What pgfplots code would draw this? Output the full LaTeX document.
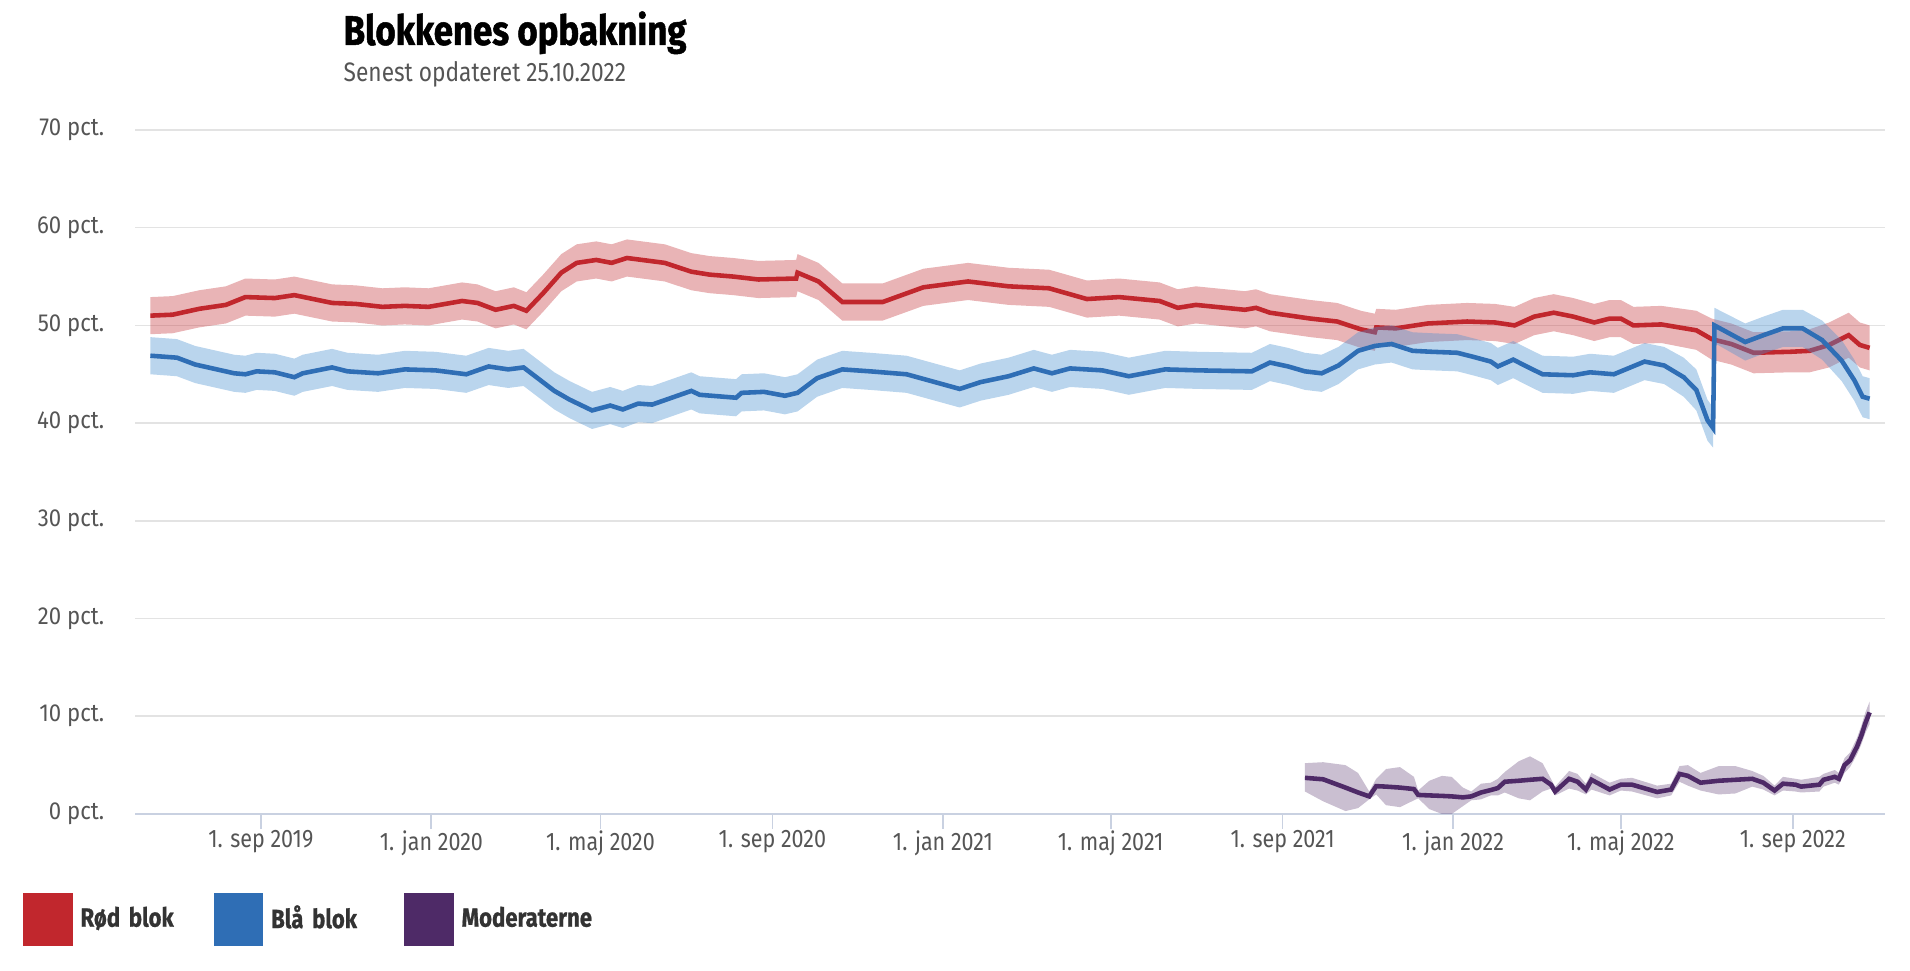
\documentclass[border=0pt]{standalone}
\usepackage{fontspec}
\usepackage{pgfplots}
\usepackage{pgfplotstable}
\pgfplotsset{compat=1.18}
\usepgfplotslibrary{fillbetween}
\setmainfont{Fira Sans}
\newfontfamily\titlefont[FakeStretch=0.84, FakeBold=1.2]{Fira Sans}
\newfontfamily\condfont[FakeStretch=0.85]{Fira Sans}
\newfontfamily\legfont[FakeStretch=0.84, FakeBold=0.8]{Fira Sans}
\newfontfamily\labfont[FakeStretch=0.9]{Fira Sans}

\definecolor{redl}{HTML}{C1272D}
\definecolor{bluel}{HTML}{2F6EB5}
\definecolor{bandb}{HTML}{4A90D0}
\definecolor{purl}{HTML}{4E2A67}
\definecolor{gridc}{HTML}{E3E3E3}
\definecolor{axisc}{HTML}{C9D1E1}
\definecolor{labc}{HTML}{555555}
\definecolor{legc}{HTML}{333333}

% days counted from 1 sep 2019
\pgfplotstableread{
d v lo hi
-79 51.0 49.1 52.9
-63 51.1 49.2 53.0
-44 51.7 49.8 53.6
-25 52.1 50.2 54.0
-11 52.9 51.0 54.8
10 52.8 50.9 54.7
24 53.1 51.2 55.0
51 52.3 50.4 54.2
68 52.2 50.3 54.1
87 51.9 50.0 53.8
103 52.0 50.1 53.9
120 51.9 50.0 53.8
144 52.5 50.6 54.4
155 52.3 50.4 54.2
168 51.6 49.7 53.5
181 52.0 50.1 53.9
190 51.5 49.6 53.4
202 53.3 51.4 55.2
215 55.4 53.5 57.3
226 56.4 54.5 58.3
240 56.7 54.8 58.6
251 56.4 54.5 58.3
262 56.9 55.0 58.8
289 56.4 54.5 58.3
308 55.5 53.6 57.4
321 55.2 53.3 57.1
338 55.0 53.1 56.9
356 54.7 52.8 56.6
383 54.8 52.9 56.7
384 55.4 53.5 57.3
399 54.5 52.6 56.4
416 52.4 50.5 54.3
445 52.4 50.5 54.3
474 53.9 52.0 55.8
506 54.5 52.6 56.4
535 54.0 52.1 55.9
564 53.8 51.9 55.7
591 52.7 50.8 54.6
614 52.9 51.0 54.8
643 52.5 50.6 54.4
656 51.8 49.9 53.7
669 52.1 50.2 54.0
704 51.6 49.7 53.5
712 51.8 49.9 53.7
722 51.3 49.4 53.2
751 50.7 48.8 52.6
770 50.4 48.5 52.3
787 49.6 47.7 51.5
797 49.3 47.4 51.2
798 49.8 47.9 51.7
812 49.7 47.8 51.6
835 50.2 48.3 52.1
863 50.4 48.5 52.3
883 50.3 48.4 52.2
897 50.0 48.1 51.9
911 50.9 49.0 52.8
925 51.3 49.4 53.2
939 50.9 49.0 52.8
954 50.3 48.4 52.2
965 50.7 48.8 52.6
973 50.7 48.8 52.6
982 50.0 48.1 51.9
1002 50.1 48.2 52.0
1027 49.5 47.5 51.5
1038 48.6 46.5 50.7
1052 48.1 46.0 50.2
1068 47.2 45.1 49.3
1094 47.3 45.2 49.4
1108 47.4 45.2 49.6
1122 48.0 45.7 50.3
1136 49.0 46.7 51.3
1144 48.0 45.7 50.3
1151 47.7 45.4 50.0
}\rodblok

\pgfplotstableread{
d v lo hi
-79 46.9 45.0 48.8
-60 46.7 44.8 48.6
-47 46.0 44.1 47.9
-19 45.1 43.2 47.0
-11 45.0 43.1 46.9
-3 45.3 43.4 47.2
10 45.2 43.3 47.1
24 44.7 42.8 46.6
30 45.1 43.2 47.0
51 45.7 43.8 47.6
62 45.3 43.4 47.2
84 45.1 43.2 47.0
103 45.5 43.6 47.4
125 45.4 43.5 47.3
147 45.0 43.1 46.9
163 45.8 43.9 47.7
177 45.5 43.6 47.4
188 45.7 43.8 47.6
210 43.3 41.4 45.2
221 42.4 40.5 44.3
237 41.3 39.4 43.2
250 41.8 39.9 43.7
259 41.4 39.5 43.3
270 42.0 40.1 43.9
280 41.9 40.0 43.8
308 43.3 41.4 45.2
314 42.9 41.0 44.8
340 42.6 40.7 44.5
344 43.1 41.2 45.0
360 43.2 41.3 45.1
375 42.8 40.9 44.7
384 43.1 41.2 45.0
398 44.6 42.7 46.5
416 45.5 43.6 47.4
436 45.3 43.4 47.2
462 45.0 43.1 46.9
500 43.5 41.6 45.4
515 44.2 42.3 46.1
535 44.8 42.9 46.7
553 45.6 43.7 47.5
566 45.1 43.2 47.0
579 45.6 43.7 47.5
602 45.4 43.5 47.3
621 44.8 42.9 46.7
647 45.5 43.6 47.4
671 45.4 43.5 47.3
709 45.3 43.4 47.2
722 46.2 44.3 48.1
735 45.8 43.9 47.7
747 45.3 43.4 47.2
759 45.1 43.2 47.0
771 45.9 44.0 47.8
785 47.4 45.5 49.3
797 47.9 46.0 49.8
809 48.1 46.2 50.0
824 47.4 45.5 49.3
838 47.3 45.4 49.2
856 47.2 45.3 49.1
867 46.8 44.9 48.7
880 46.3 44.4 48.2
885 45.8 43.9 47.7
896 46.5 44.6 48.4
907 45.7 43.8 47.6
917 45.0 43.1 46.9
939 44.9 43.0 46.8
951 45.2 43.3 47.1
968 45.0 43.1 46.9
990 46.3 44.4 48.2
1004 45.9 44.0 47.8
1018 44.7 42.7 46.7
1027 43.4 41.3 45.5
1035 40.3 38.2 42.4
1039 39.5 37.5 41.6
1040 50.0 48.2 51.8
1062 48.3 46.4 50.2
1075 49.0 47.1 50.9
1089 49.7 47.8 51.6
1103 49.7 47.8 51.6
1117 48.5 46.5 50.5
1131 46.4 44.3 48.5
1140 44.4 42.3 46.5
1146 42.7 40.6 44.8
1151 42.5 40.4 44.6
}\blaablok

\pgfplotstableread{
d v lo hi
747 3.7 2.3 5.2
760 3.55 1.3 5.3
776 2.7 0.3 5.0
785 2.2 0.6 4.2
793 1.8 1.5 2.3
798 2.85 2.0 3.6
805 2.8 0.9 4.6
815 2.7 0.7 4.8
825 2.55 1.4 3.8
828 1.95 1.6 2.4
836 1.9 0.5 3.4
845 1.85 0.0 3.9
852 1.8 0.0 3.8
860 1.7 0.8 2.7
866 1.8 1.4 2.3
873 2.2 1.5 3.1
880 2.45 1.9 3.2
885 2.65 1.9 3.6
890 3.3 2.2 4.3
900 3.4 1.6 5.4
908 3.5 1.4 5.9
917 3.6 2.3 5.2
923 3.0 2.6 3.6
926 2.3 1.9 2.8
936 3.6 2.6 4.4
942 3.3 2.4 4.1
948 2.5 2.0 3.1
952 3.5 2.5 4.2
965 2.5 1.9 3.2
973 3.0 2.4 3.6
981 3.0 2.3 3.7
999 2.25 1.6 2.9
1009 2.5 1.9 3.1
1015 4.1 3.3 4.9
1021 3.9 2.9 5.0
1030 3.2 2.4 4.2
1043 3.4 2.0 4.9
1055 3.5 2.1 4.9
1067 3.6 2.8 4.4
1075 3.2 2.5 3.9
1083 2.4 1.9 2.9
1089 3.1 2.4 3.8
1098 3.0 2.3 3.6
1102 2.8 2.2 3.5
1115 3.0 2.3 3.8
1118 3.5 2.8 4.1
1126 3.8 3.2 4.5
1129 3.6 3.0 4.2
1133 5.0 4.2 5.7
1137 5.5 4.8 6.3
1142 6.9 6.1 7.8
1145 8.0 7.1 9.0
1148 9.3 8.3 10.4
1151 10.4 9.2 11.5
}\moderaterne

\begin{document}
\begin{tikzpicture}
\node[anchor=base west, inner sep=0pt, font=\titlefont\bfseries\fontsize{11.8}{13}\selectfont] at (34.3mm,92.6mm) {Blokkenes opbakning};
\node[anchor=base west, inner sep=0pt, text=labc, font=\condfont\fontsize{7.6}{9}\selectfont] at (34.3mm,88.9mm) {Senest opdateret 25.10.2022};

\begin{axis}[
    at={(13.5mm,15.7mm)}, anchor=south west,
    scale only axis, width=175.0mm, height=68.4mm,
    xmin=-90, xmax=1162, ymin=0, ymax=70,
    axis line style={draw=none},
    ymajorgrids, grid style={draw=gridc, line width=0.45pt},
    ytick={10,20,...,70},
    yticklabels={10 pct.,20 pct.,30 pct.,40 pct.,50 pct.,60 pct.,70 pct.},
    extra y ticks={0}, extra y tick labels={0 pct.},
    extra y tick style={grid style={draw=axisc, line width=0.75pt}},
    ytick style={draw=none},
    xtick={0,122,243,366,488,608,731,853,973,1096},
    xticklabels={1. sep 2019,1. jan 2020,1. maj 2020,1. sep 2020,1. jan 2021,1. maj 2021,1. sep 2021,1. jan 2022,1. maj 2022,1. sep 2022},
    xtick pos=left, tick align=outside, major tick length=1.5mm,
    xtick style={draw=axisc, line width=0.5pt},
    xticklabel style={font=\condfont\fontsize{7.2}{9}\selectfont, text=labc, inner sep=0pt, anchor=north, yshift=-0.1mm},
    yticklabel style={font=\labfont\fontsize{7}{8}\selectfont, text=labc, inner sep=0pt, anchor=east, xshift=-1.5mm},
    legend style={at={(-0.0644,-0.154)}, anchor=west, draw=none, fill=none, inner sep=0pt,
        legend columns=3, row sep=0pt,
        nodes={inner sep=0pt, text width=13.3mm, align=left, text=legc, font=\legfont\bfseries\fontsize{7.5}{8}\selectfont}},
    legend cell align=left,
    legend image code/.code={\fill[#1] (0mm,-2.45mm) rectangle (4.5mm,2.45mm); \path (5.3mm,0mm);},
]
% Rød blok
\addplot[name path=rhi, draw=none, forget plot] table[x=d, y=hi] {\rodblok};
\addplot[name path=rlo, draw=none, forget plot] table[x=d, y=lo] {\rodblok};
\addplot[fill=redl, fill opacity=0.35, draw=none, forget plot] fill between[of=rhi and rlo];
\addplot[color=redl, line width=1.3pt, on layer=pre main] table[x=d, y=v] {\rodblok};
\addlegendentry{Rød blok}
% Blå blok
\addplot[name path=bhi, draw=none, forget plot] table[x=d, y=hi] {\blaablok};
\addplot[name path=blo, draw=none, forget plot] table[x=d, y=lo] {\blaablok};
\addplot[fill=bandb, fill opacity=0.38, draw=none, forget plot] fill between[of=bhi and blo];
\addplot[color=bluel, line width=1.3pt, on layer=pre main] table[x=d, y=v] {\blaablok};
\addlegendentry{Blå blok}
% Moderaterne
\addplot[name path=mhi, draw=none, forget plot] table[x=d, y=hi] {\moderaterne};
\addplot[name path=mlo, draw=none, forget plot] table[x=d, y=lo] {\moderaterne};
\addplot[fill=purl, fill opacity=0.3, draw=none, forget plot] fill between[of=mhi and mlo];
\addplot[color=purl, line width=1.3pt, on layer=pre main] table[x=d, y=v] {\moderaterne};
\addlegendentry{Moderaterne}
\end{axis}
\pgfresetboundingbox
\path[use as bounding box] (0,0) rectangle (191mm,97.1mm);
\end{tikzpicture}
\end{document}
